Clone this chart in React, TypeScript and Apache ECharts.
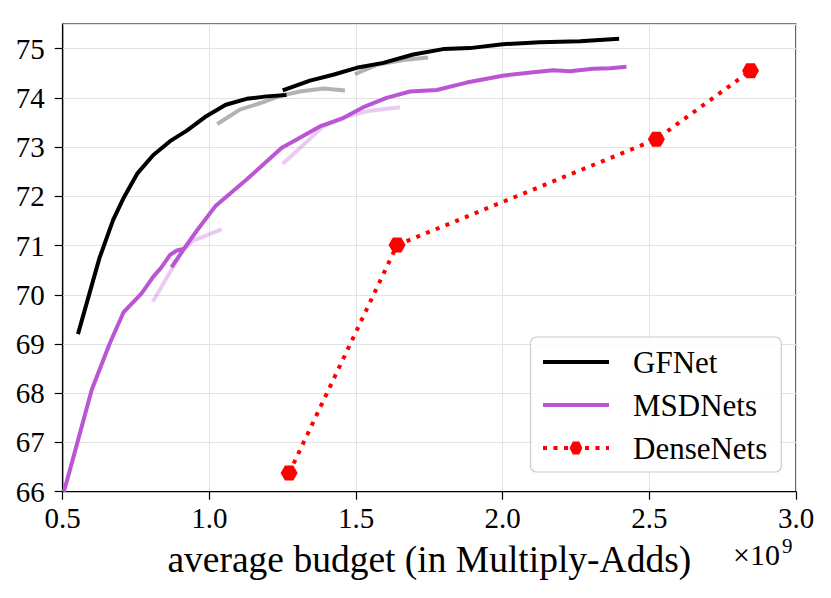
import React, { useEffect, useRef } from "react";
import * as echarts from "echarts";

// GFNet (two pieces)
const gfnetX1 = [0.552, 0.625, 0.672, 0.707, 0.754, 0.809, 0.866, 0.922, 0.985, 1.056, 1.127, 1.195, 1.263];
const gfnetY1 = [69.2, 70.74, 71.52, 71.96, 72.46, 72.84, 73.12, 73.33, 73.61, 73.86, 73.98, 74.03, 74.06];
const gfnetX2 = [1.25, 1.343, 1.422, 1.502, 1.593, 1.695, 1.797, 1.888, 2.0, 2.127, 2.263, 2.397];
const gfnetY2 = [74.15, 74.35, 74.47, 74.61, 74.71, 74.88, 74.99, 75.01, 75.09, 75.13, 75.15, 75.2];
// GFNet faded variants
const gfFadeX1 = [1.027, 1.104, 1.172, 1.241, 1.309, 1.388, 1.462];
const gfFadeY1 = [73.47, 73.76, 73.89, 74.04, 74.13, 74.19, 74.15];
const gfFadeX2 = [1.496, 1.57, 1.661, 1.746];
const gfFadeY2 = [74.48, 74.67, 74.77, 74.82];
// MSDNets (two pieces)
const msdX1 = [0.504, 0.531, 0.599, 0.661, 0.707, 0.769, 0.809, 0.837, 0.866, 0.889, 0.911];
const msdY1 = [66.0, 66.58, 68.07, 69.02, 69.64, 70.03, 70.37, 70.56, 70.81, 70.9, 70.93];
const msdX2 = [0.871, 0.911, 0.957, 1.022, 1.127, 1.246, 1.377, 1.456, 1.525, 1.604, 1.684, 1.775, 1.877, 2.0, 2.104, 2.172, 2.229, 2.308, 2.366, 2.422];
const msdY2 = [70.56, 70.91, 71.3, 71.81, 72.34, 72.98, 73.42, 73.59, 73.81, 74.0, 74.13, 74.16, 74.31, 74.45, 74.52, 74.56, 74.54, 74.59, 74.6, 74.63];
// MSDNets faded variants
const msdFadeX1 = [0.807, 0.871, 0.911, 0.945, 1.042];
const msdFadeY1 = [69.86, 70.51, 70.91, 71.1, 71.33];
const msdFadeX2 = [1.25, 1.309, 1.388, 1.468, 1.547, 1.65];
const msdFadeY2 = [72.66, 72.98, 73.42, 73.62, 73.74, 73.81];
// DenseNets
const denseX = [1.272, 1.64, 2.524, 2.845];
const denseY = [66.38, 71.01, 73.16, 74.55];

const yTicks = [66, 67, 68, 69, 70, 71, 72, 73, 74, 75];
const xTicks = [0.5, 1.0, 1.5, 2.0, 2.5, 3.0];

const zip = (xs: number[], ys: number[]) => xs.map((x, i) => [x, ys[i]]);

const FONT = "'Liberation Serif', 'DejaVu Serif', serif";
const PURPLE = "#BA55D3";
const HEX = "path://M-1,0 L-0.5,-0.866 L0.5,-0.866 L1,0 L0.5,0.866 L-0.5,0.866 Z";

export default function App() {
  const ref = useRef<HTMLDivElement>(null);
  useEffect(() => {
    if (!ref.current) return;
    const chart = echarts.init(ref.current, null, { renderer: "svg" });
    const lineBase = (name: string, data: number[][], color: string, z: number) => ({
      name,
      type: "line",
      data,
      showSymbol: false,
      symbol: "circle",
      clip: true,
      z,
      lineStyle: { color, width: 4, cap: "butt", join: "round" },
      itemStyle: { color },
      emphasis: { disabled: true },
    });
    chart.setOption({
      animation: false,
      backgroundColor: "#ffffff",
      grid: {
        left: 62.7,
        right: 35,
        top: 24,
        bottom: 106.3,
        show: true,
        borderColor: "#000",
        borderWidth: 1.2,
        backgroundColor: "transparent",
      },
      xAxis: {
        type: "value",
        min: 0.5,
        max: 3.0,
        interval: 0.5,
        name: "average budget (in Multiply-Adds)",
        nameLocation: "middle",
        nameGap: 49,
        nameTextStyle: { fontFamily: FONT, fontSize: 37.5, color: "#000" },
        axisLine: { show: true, onZero: false, lineStyle: { color: "#000", width: 1.2 } },
        axisTick: { show: true, length: 8, lineStyle: { color: "#000", width: 1.2 } },
        axisLabel: {
          fontFamily: FONT,
          fontSize: 29,
          color: "#000",
          margin: 12,
          formatter: (v: number) => (xTicks.includes(Math.round(v * 10) / 10) ? v.toFixed(1) : ""),
        },
        splitLine: { show: true, lineStyle: { color: "#e3e3e3", width: 1 } },
      },
      yAxis: {
        type: "value",
        min: 66,
        max: 75.5,
        interval: 1,
        axisLine: { show: true, onZero: false, lineStyle: { color: "#000", width: 1.2 } },
        axisTick: { show: true, length: 8, lineStyle: { color: "#000", width: 1.2 } },
        axisLabel: {
          fontFamily: FONT,
          fontSize: 29,
          color: "#000",
          margin: 18,
          showMaxLabel: false,
          formatter: (v: number) => (yTicks.includes(v) ? String(v) : ""),
        },
        splitLine: { show: true, lineStyle: { color: "#e3e3e3", width: 1 } },
      },
      legend: {
        data: [
          { name: "GFNet", itemStyle: { opacity: 0 } },
          { name: "MSDNets", itemStyle: { opacity: 0 } },
          { name: "DenseNets" },
        ],
        orient: "vertical",
        left: 530.5,
        top: 337,
        padding: [9, 14, 8, 10.5],
        itemWidth: 66,
        itemHeight: 16,
        itemGap: 11,
        lineStyle: { width: 4 },
        backgroundColor: "rgba(255,255,255,0.85)",
        borderColor: "#cccccc",
        borderWidth: 1.2,
        borderRadius: 6,
        textStyle: {
          fontFamily: FONT,
          fontSize: 31,
          color: "#000",
          lineHeight: 32,
          padding: [0, 0, 0, 19],
        },
      },
      graphic: [
        {
          type: "text",
          left: 733,
          top: 539,
          style: { text: "×10", fontFamily: FONT, fontSize: 30, fill: "#000" },
        },
        {
          type: "text",
          left: 782,
          top: 535,
          style: { text: "9", fontFamily: FONT, fontSize: 21, fill: "#000" },
        },
      ],
      series: [
        lineBase("gf-fade-1", zip(gfFadeX1, gfFadeY1), "rgba(0,0,0,0.3)", 1),
        lineBase("gf-fade-2", zip(gfFadeX2, gfFadeY2), "rgba(0,0,0,0.3)", 1),
        lineBase("msd-fade-1", zip(msdFadeX1, msdFadeY1), "rgba(186,85,211,0.3)", 1),
        lineBase("msd-fade-2", zip(msdFadeX2, msdFadeY2), "rgba(186,85,211,0.3)", 1),
        lineBase("GFNet", zip(gfnetX1, gfnetY1), "#000000", 3),
        lineBase("GFNet", zip(gfnetX2, gfnetY2), "#000000", 3),
        lineBase("MSDNets", zip(msdX1, msdY1), PURPLE, 3),
        lineBase("MSDNets", zip(msdX2, msdY2), PURPLE, 3),
        {
          name: "DenseNets",
          type: "line",
          data: zip(denseX, denseY),
          symbol: HEX,
          symbolSize: [17, 15],
          showSymbol: true,
          z: 4,
          lineStyle: { color: "#ff0000", width: 4, type: [4, 6.5], cap: "butt" },
          itemStyle: { color: "#ff0000", borderWidth: 0 },
          emphasis: { disabled: true },
        },
      ],
    });
    return () => chart.dispose();
  }, []);
  return (
    <div
      ref={ref}
      style={{ position: "fixed", left: 0, top: 0, width: 831, height: 598, background: "#fff" }}
    />
  );
}
